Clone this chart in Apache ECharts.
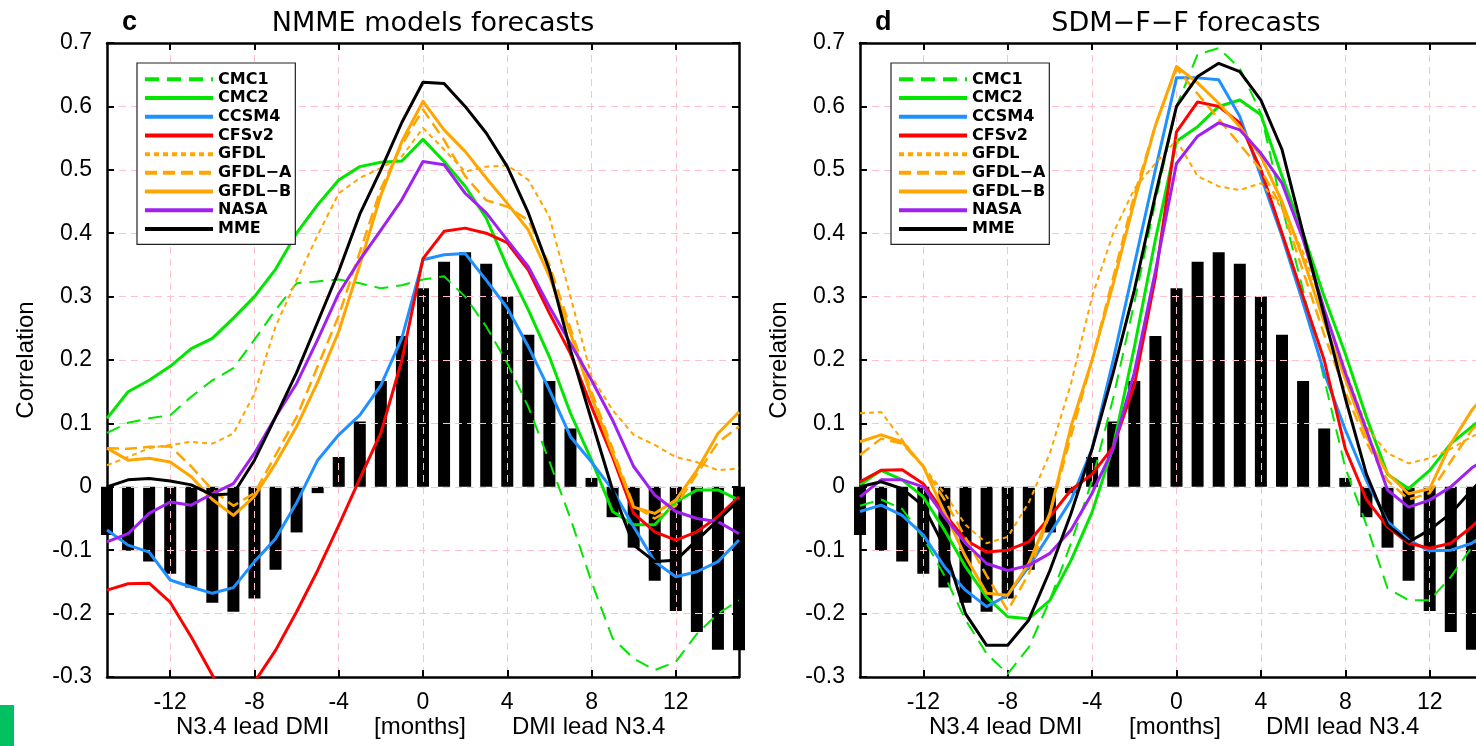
<!DOCTYPE html>
<html>
<head>
<meta charset="utf-8">
<script src="https://cdn.jsdelivr.net/npm/echarts@6/dist/echarts.min.js"></script>
<style>
  html, body { margin: 0; padding: 0; background: #fff; }
  #chart { width: 1476px; height: 746px; }
</style>
</head>
<body>
<div id="chart"></div>
<script>
// Lead/lag in months (negative: N3.4 leads DMI)
const months = [-15, -14, -13, -12, -11, -10, -9, -8, -7, -6, -5, -4, -3, -2, -1, 0,
                1, 2, 3, 4, 5, 6, 7, 8, 9, 10, 11, 12, 13, 14, 15];
const xTickLabels = [-12, -8, -4, 0, 4, 8, 12];
const modelNames = ['CMC1', 'CMC2', 'CCSM4', 'CFSv2', 'GFDL', 'GFDL-A', 'GFDL-B', 'NASA', 'MME'];

// Observed lead-lag correlation (bars, same in both panels)
const observed = [-0.076, -0.101, -0.118, -0.137, -0.159, -0.183, -0.197, -0.176, -0.131, -0.072, -0.010,
                  0.047, 0.103, 0.167, 0.238, 0.313, 0.355, 0.370, 0.352, 0.300, 0.240, 0.167, 0.092, 0.014,
                  -0.048, -0.096, -0.148, -0.196, -0.229, -0.257, -0.258];

// Panel c: NMME model forecasts
const nmmeCMC1  = [0.085, 0.101, 0.108, 0.113, 0.142, 0.168, 0.187, 0.232, 0.279, 0.321, 0.324, 0.327, 0.321, 0.313, 0.318, 0.327,
                   0.332, 0.300, 0.253, 0.195, 0.126, 0.040, -0.050, -0.150, -0.239, -0.271, -0.289, -0.276, -0.232, -0.200, -0.179];
const nmmeCMC2  = [0.108, 0.150, 0.168, 0.190, 0.218, 0.234, 0.266, 0.300, 0.343, 0.400, 0.445, 0.484, 0.505, 0.512, 0.514, 0.548,
                   0.513, 0.474, 0.424, 0.347, 0.279, 0.205, 0.116, 0.042, -0.039, -0.060, -0.060, -0.024, -0.005, -0.005, -0.021];
const nmmeCCSM4 = [-0.068, -0.092, -0.103, -0.147, -0.158, -0.168, -0.159, -0.118, -0.082, -0.025, 0.042, 0.082, 0.113, 0.160, 0.235, 0.358,
                   0.366, 0.368, 0.326, 0.282, 0.221, 0.153, 0.079, 0.039, -0.005, -0.063, -0.118, -0.142, -0.134, -0.118, -0.084];
const nmmeCFSv2 = [-0.163, -0.153, -0.152, -0.182, -0.237, -0.297, -0.360, -0.308, -0.258, -0.197, -0.132, -0.061, 0.013, 0.085, 0.200, 0.360,
                   0.403, 0.408, 0.400, 0.385, 0.342, 0.274, 0.210, 0.126, 0.047, -0.042, -0.071, -0.084, -0.071, -0.047, -0.016];
const nmmeGFDL  = [0.034, 0.047, 0.061, 0.066, 0.071, 0.068, 0.084, 0.147, 0.253, 0.326, 0.397, 0.463, 0.487, 0.503, 0.521, 0.566,
                   0.532, 0.497, 0.505, 0.507, 0.484, 0.426, 0.300, 0.174, 0.121, 0.082, 0.066, 0.047, 0.039, 0.026, 0.029];
const nmmeGFDLA = [0.061, 0.060, 0.063, 0.064, 0.032, -0.005, -0.030, -0.010, 0.050, 0.110, 0.190, 0.270, 0.370, 0.470, 0.540, 0.595,
                   0.547, 0.490, 0.452, 0.442, 0.420, 0.350, 0.250, 0.150, 0.060, -0.030, -0.050, -0.030, 0.020, 0.070, 0.095];
const nmmeGFDLB = [0.061, 0.042, 0.045, 0.039, 0.016, -0.020, -0.045, -0.015, 0.037, 0.095, 0.165, 0.245, 0.350, 0.460, 0.545, 0.608,
                   0.563, 0.529, 0.487, 0.447, 0.405, 0.332, 0.242, 0.142, 0.053, -0.032, -0.042, -0.021, 0.026, 0.084, 0.118];
const nmmeNASA  = [-0.087, -0.074, -0.042, -0.024, -0.029, -0.011, 0.005, 0.053, 0.110, 0.163, 0.232, 0.305, 0.358, 0.405, 0.453, 0.513,
                   0.508, 0.463, 0.432, 0.389, 0.347, 0.284, 0.226, 0.168, 0.105, 0.032, -0.013, -0.039, -0.050, -0.055, -0.074];
const nmmeMME   = [0.000, 0.011, 0.013, 0.009, 0.003, -0.013, -0.011, 0.042, 0.110, 0.180, 0.260, 0.340, 0.430, 0.500, 0.575, 0.638,
                   0.636, 0.600, 0.558, 0.505, 0.432, 0.342, 0.216, 0.105, -0.005, -0.092, -0.118, -0.116, -0.084, -0.053, -0.021];

// Panel d: SDM-F-F forecasts
const sdmCMC1  = [-0.030, -0.020, -0.035, -0.080, -0.140, -0.210, -0.263, -0.295, -0.253, -0.179, -0.089, 0.010, 0.140, 0.290, 0.450, 0.600,
                  0.682, 0.692, 0.660, 0.589, 0.442, 0.310, 0.170, 0.030, -0.060, -0.160, -0.179, -0.179, -0.142, -0.095, -0.050];
const sdmCMC2  = [0.003, 0.026, 0.011, -0.016, -0.068, -0.126, -0.174, -0.205, -0.208, -0.179, -0.116, -0.040, 0.063, 0.220, 0.390, 0.545,
                  0.568, 0.600, 0.610, 0.587, 0.490, 0.400, 0.300, 0.210, 0.110, 0.020, -0.003, 0.026, 0.068, 0.095, 0.120];
const sdmCCSM4 = [-0.039, -0.029, -0.045, -0.076, -0.126, -0.163, -0.189, -0.171, -0.126, -0.074, -0.021, 0.060, 0.200, 0.350, 0.500, 0.645,
                  0.645, 0.642, 0.584, 0.490, 0.395, 0.290, 0.180, 0.090, 0.010, -0.055, -0.084, -0.101, -0.100, -0.089, -0.065];
const sdmCFSv2 = [0.008, 0.026, 0.027, 0.005, -0.042, -0.084, -0.103, -0.100, -0.087, -0.047, -0.005, 0.020, 0.063, 0.160, 0.330, 0.560,
                  0.607, 0.600, 0.574, 0.500, 0.400, 0.300, 0.200, 0.060, -0.020, -0.063, -0.089, -0.097, -0.089, -0.063, -0.030];
const sdmGFDL  = [0.116, 0.118, 0.074, 0.032, -0.010, -0.060, -0.089, -0.079, -0.025, 0.053, 0.163, 0.300, 0.400, 0.470, 0.510, 0.547,
                  0.490, 0.474, 0.468, 0.479, 0.440, 0.370, 0.280, 0.185, 0.095, 0.053, 0.037, 0.045, 0.060, 0.079, 0.095];
const sdmGFDLA = [0.050, 0.076, 0.068, 0.032, -0.020, -0.080, -0.140, -0.195, -0.137, -0.042, 0.080, 0.200, 0.330, 0.460, 0.570, 0.660,
                  0.620, 0.580, 0.540, 0.500, 0.440, 0.340, 0.240, 0.150, 0.070, 0.010, -0.020, -0.010, 0.040, 0.090, 0.120];
const sdmGFDLB = [0.071, 0.082, 0.071, 0.032, -0.040, -0.110, -0.168, -0.171, -0.121, -0.042, 0.095, 0.200, 0.320, 0.450, 0.570, 0.663,
                  0.637, 0.605, 0.568, 0.521, 0.450, 0.360, 0.260, 0.170, 0.080, 0.021, -0.011, -0.003, 0.068, 0.121, 0.160];
const sdmNASA  = [-0.016, 0.011, 0.011, 0.000, -0.047, -0.089, -0.121, -0.132, -0.124, -0.105, -0.068, -0.010, 0.060, 0.180, 0.340, 0.510,
                  0.553, 0.574, 0.563, 0.526, 0.479, 0.390, 0.280, 0.180, 0.090, -0.005, -0.032, -0.021, 0.000, 0.030, 0.050];
const sdmMME   = [0.000, 0.008, -0.003, -0.030, -0.095, -0.200, -0.250, -0.250, -0.210, -0.132, -0.042, 0.060, 0.180, 0.310, 0.460, 0.600,
                  0.647, 0.668, 0.655, 0.610, 0.532, 0.400, 0.270, 0.140, 0.020, -0.060, -0.087, -0.068, -0.042, -0.005, 0.030];

const nmmeSeries = [nmmeCMC1, nmmeCMC2, nmmeCCSM4, nmmeCFSv2, nmmeGFDL, nmmeGFDLA, nmmeGFDLB, nmmeNASA, nmmeMME];
const sdmSeries  = [sdmCMC1, sdmCMC2, sdmCCSM4, sdmCFSv2, sdmGFDL, sdmGFDLA, sdmGFDLB, sdmNASA, sdmMME];

// Line appearance per model
const lineLook = {
  'CMC1':   { color: '#00e600', width: 2,   type: [14, 8] },
  'CMC2':   { color: '#00e600', width: 3,   type: 'solid' },
  'CCSM4':  { color: '#1e90ff', width: 3,   type: 'solid' },
  'CFSv2':  { color: '#ff0000', width: 3,   type: 'solid' },
  'GFDL':   { color: '#ffa500', width: 2,   type: [5, 4] },
  'GFDL-A': { color: '#ffa500', width: 2.5, type: [12, 6] },
  'GFDL-B': { color: '#ffa500', width: 3,   type: 'solid' },
  'NASA':   { color: '#a020f0', width: 3,   type: 'solid' },
  'MME':    { color: '#000000', width: 3,   type: 'solid' }
};

const SANS = '"Liberation Sans", Arial, sans-serif';
const onTick = (idx, val) => xTickLabels.indexOf(Number(val)) >= 0;
const gridLine = { color: '#ffc0cb', width: 1, type: [7, 5] };
const frame = { show: true, onZero: false, lineStyle: { color: '#000', width: 2.5 } };
const tickStyle = { color: '#000', width: 2 };

function xAxes(gridIndex) {
  return [
    {
      gridIndex, type: 'category', data: months, boundaryGap: false, position: 'bottom', z: 2,
      axisLine: frame,
      axisTick: { show: true, inside: true, length: 7, interval: onTick, lineStyle: tickStyle },
      axisLabel: { show: true, interval: onTick, margin: 14, fontSize: 23, color: '#000', fontFamily: SANS },
      splitLine: { show: true, interval: onTick, lineStyle: gridLine }
    },
    {
      gridIndex, type: 'category', data: months, boundaryGap: false, position: 'top', z: 2,
      axisLine: frame,
      axisTick: { show: true, inside: true, length: 7, interval: onTick, lineStyle: tickStyle },
      axisLabel: { show: false },
      splitLine: { show: false }
    }
  ];
}

function yAxes(gridIndex) {
  const base = { gridIndex, type: 'value', min: -0.3, max: 0.7, interval: 0.1, z: 2 };
  return [
    Object.assign({}, base, {
      position: 'left',
      axisLine: frame,
      axisTick: { show: true, inside: true, length: 7, lineStyle: tickStyle },
      axisLabel: { show: true, margin: 15, fontSize: 23, color: '#000', fontFamily: SANS },
      splitLine: { show: true, lineStyle: gridLine }
    }),
    Object.assign({}, base, {
      position: 'right',
      axisLine: frame,
      axisTick: { show: true, inside: true, length: 7, lineStyle: tickStyle },
      axisLabel: { show: false },
      splitLine: { show: false }
    })
  ];
}

function panelSeries(axisIndex, values) {
  const list = [{
    type: 'bar', name: 'observed', xAxisIndex: axisIndex, yAxisIndex: axisIndex,
    data: observed, barWidth: 12, itemStyle: { color: '#000' }, z: 1, silent: true
  }];
  modelNames.forEach((name, i) => {
    const look = lineLook[name];
    list.push({
      type: 'line', name, xAxisIndex: axisIndex, yAxisIndex: axisIndex,
      data: values[i], symbol: 'none', showSymbol: false, clip: true, z: 3, silent: true,
      itemStyle: { color: look.color },
      lineStyle: { color: look.color, width: look.width, type: look.type, cap: 'butt', join: 'round' }
    });
  });
  return list;
}

function legendBox(left) {
  return {
    data: modelNames, orient: 'vertical', left, top: 63,
    padding: [7, 4, 6, 6], itemGap: 0, itemWidth: 68, itemHeight: 10,
    backgroundColor: '#fff', borderColor: '#222', borderWidth: 1.2, borderRadius: 0,
    selectedMode: false,
    itemStyle: { opacity: 0, borderWidth: 0 },
    lineStyle: { width: 4 },
    formatter: n => n.replace('-', '\u2212'),
    textStyle: { fontFamily: '"DejaVu Sans", sans-serif', fontWeight: 'bold', fontSize: 16, color: '#000', lineHeight: 18.7 }
  };
}

function label(x, y, text, font, extra) {
  return Object.assign({
    type: 'text', x, y, silent: true,
    style: { text, font, fill: '#000', textAlign: 'left', textVerticalAlign: 'middle' }
  }, extra || {});
}
function centered(x, y, text, font, rotation) {
  return {
    type: 'text', x, y, rotation: rotation || 0, silent: true,
    style: { text, font, fill: '#000', textAlign: 'center', textVerticalAlign: 'middle' }
  };
}

const axisFont = '24px "Liberation Sans", Arial, sans-serif';
const titleFont = '27px "DejaVu Sans", sans-serif';
const letterFont = 'bold 27px "Liberation Sans", Arial, sans-serif';

const chart = echarts.init(document.getElementById('chart'), null, { renderer: 'canvas' });
chart.setOption({
  animation: false,
  backgroundColor: '#fff',
  grid: [
    { left: 107, top: 43, width: 632, height: 634, outerBoundsMode: 'none', containLabel: false },
    { left: 860, top: 43, width: 633, height: 634, outerBoundsMode: 'none', containLabel: false }
  ],
  xAxis: xAxes(0).concat(xAxes(1)),
  yAxis: yAxes(0).concat(yAxes(1)),
  legend: [legendBox(137), legendBox(891)],
  series: panelSeries(0, nmmeSeries).concat(panelSeries(2, sdmSeries)),
  graphic: [
    label(122, 23, 'c', letterFont),
    centered(433, 24, 'NMME models forecasts', titleFont),
    label(875, 23, 'd', letterFont),
    centered(1186, 24, 'SDM\u2212F\u2212F forecasts', titleFont),
    centered(26, 360, 'Correlation', axisFont, Math.PI / 2),
    centered(779, 360, 'Correlation', axisFont, Math.PI / 2),
    label(176, 727, 'N3.4 lead DMI', axisFont),
    label(374, 727, '[months]', axisFont),
    label(512, 727, 'DMI lead N3.4', axisFont),
    label(929, 727, 'N3.4 lead DMI', axisFont),
    label(1129, 727, '[months]', axisFont),
    label(1266, 727, 'DMI lead N3.4', axisFont),
    { type: 'rect', silent: true, shape: { x: 0, y: 705, width: 14, height: 41 }, style: { fill: '#00c060' } }
  ]
});
</script>
</body>
</html>
